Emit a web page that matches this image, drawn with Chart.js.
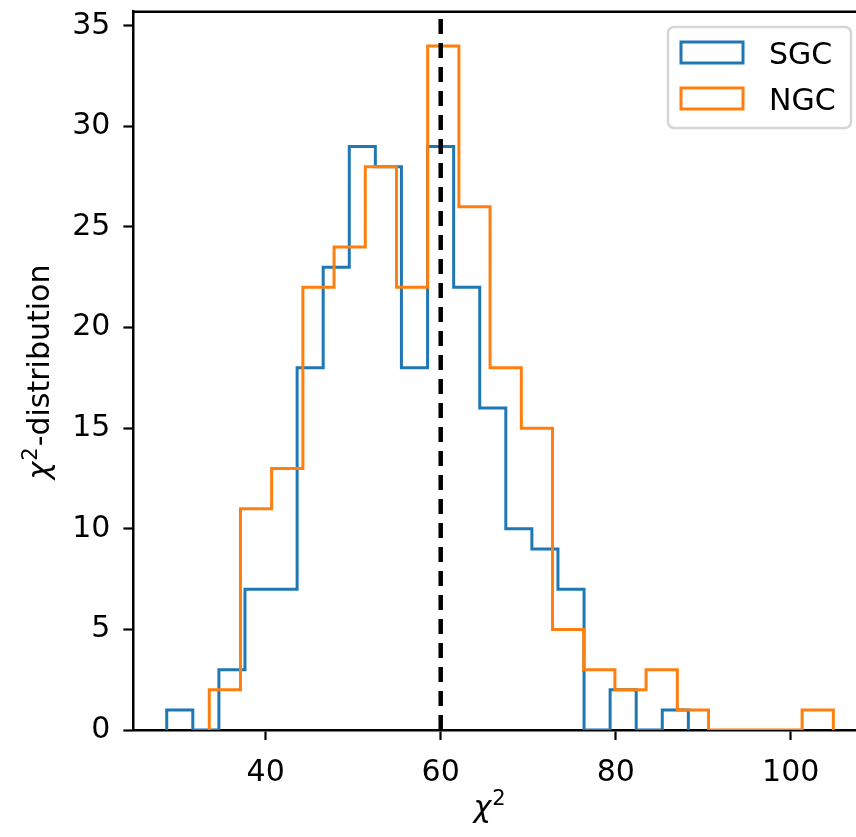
<!DOCTYPE html>
<html>
<head>
<meta charset="utf-8">
<script src="https://cdn.jsdelivr.net/npm/chart.js@4"></script>
<style>
  html, body { margin: 0; padding: 0; background: #ffffff; overflow: hidden; }
  canvas { display: block; }
</style>
</head>
<body>
<canvas id="chi2Hist" width="856" height="837"></canvas>
<script>
// bin edges (20 bins each) and counts per bin
const sgcEdges = [28.69, 31.67, 34.65, 37.63, 40.61, 43.59, 46.57, 49.55, 52.53, 55.51, 58.50,
                  61.48, 64.46, 67.44, 70.42, 73.40, 76.38, 79.36, 82.34, 85.32, 88.30];
const sgcCounts = [1, 0, 3, 7, 7, 18, 23, 29, 28, 18, 29, 22, 16, 10, 9, 7, 0, 2, 0, 1];

const ngcEdges = [33.55, 37.12, 40.68, 44.25, 47.81, 51.38, 54.95, 58.51, 62.08, 65.64, 69.21,
                  72.78, 76.34, 79.91, 83.47, 87.04, 90.61, 94.17, 97.74, 101.30, 104.87];
const ngcCounts = [2, 11, 13, 22, 24, 28, 22, 34, 26, 18, 15, 5, 3, 2, 3, 1, 0, 0, 0, 1];

const refChi2 = 60; // dashed reference line
const xTicks = [40, 60, 80, 100];
const yTicks = [0, 5, 10, 15, 20, 25, 30, 35];
const xMin = 24.88, xMax = 107.46;
const yMin = 0, yMax = 35.7;

// turn edges + counts into an outline like histtype="step"
function stepPoints(edges, counts) {
  const pts = [{ x: edges[0], y: 0 }];
  for (let i = 0; i < counts.length; i++) {
    pts.push({ x: edges[i], y: counts[i] });
  }
  pts.push({ x: edges[edges.length - 1], y: counts[counts.length - 1] });
  pts.push({ x: edges[edges.length - 1], y: 0 });
  return pts;
}

const FONT = "'DejaVu Sans', 'Liberation Sans', sans-serif";

// chi with a superscript 2, then optional plain text; drawn from (x, y) along the baseline
function drawChi2(ctx, x, y, rest) {
  ctx.font = "italic 30px " + FONT;
  ctx.fillText("χ", x, y);
  x += ctx.measureText("χ").width + 1;
  ctx.font = "21px " + FONT;
  ctx.fillText("2", x, y - 12);
  x += ctx.measureText("2").width + 1;
  if (rest) {
    ctx.font = "30px " + FONT;
    ctx.fillText(rest, x, y);
  }
}

function chi2Width(ctx, rest) {
  ctx.font = "italic 30px " + FONT;
  let w = ctx.measureText("χ").width + 1;
  ctx.font = "21px " + FONT;
  w += ctx.measureText("2").width + 1;
  if (rest) {
    ctx.font = "30px " + FONT;
    w += ctx.measureText(rest).width;
  }
  return w;
}

// top spine (right one sits outside the canvas) and axis titles
const frame = {
  id: "frame",
  afterDraw(chart) {
    const { ctx, chartArea } = chart;
    ctx.save();
    ctx.strokeStyle = "#000000";
    ctx.lineWidth = 2.5;
    ctx.beginPath();
    ctx.moveTo(chartArea.left - 1.25, chartArea.top);
    ctx.lineTo(chartArea.right, chartArea.top);
    ctx.stroke();

    ctx.fillStyle = "#000000";
    ctx.textAlign = "left";
    ctx.textBaseline = "alphabetic";
    // x title
    const wx = chi2Width(ctx, "");
    drawChi2(ctx, 490 - wx / 2, 817, "");
    // y title, rotated
    const wy = chi2Width(ctx, "-distribution");
    ctx.translate(49, 372);
    ctx.rotate(-Math.PI / 2);
    drawChi2(ctx, -wy / 2, 0, "-distribution");
    ctx.restore();
  },
};

// matplotlib style legend box in the upper right
const boxLegend = {
  id: "boxLegend",
  afterDraw(chart) {
    const ctx = chart.ctx;
    const items = chart.data.datasets.filter((d) => d.inLegend);
    const bx = 668, by = 27, bw = 183, bh = 101;
    ctx.save();
    ctx.beginPath();
    ctx.roundRect(bx, by, bw, bh, 6);
    ctx.fillStyle = "rgba(255,255,255,0.8)";
    ctx.fill();
    ctx.strokeStyle = "#d6d6d6";
    ctx.lineWidth = 2.5;
    ctx.stroke();
    ctx.font = "30px " + FONT;
    ctx.textBaseline = "alphabetic";
    ctx.textAlign = "left";
    items.forEach((d, i) => {
      const py = 42 + i * 46;
      ctx.strokeStyle = d.borderColor;
      ctx.lineWidth = 3;
      ctx.strokeRect(681, py, 62, 21);
      ctx.fillStyle = "#000000";
      ctx.fillText(d.label, 769, py + 21.5);
    });
    ctx.restore();
  },
};

const ctx = document.getElementById("chi2Hist").getContext("2d");
const config = {
  type: "line",
  data: {
    datasets: [
      {
        label: "SGC",
        data: stepPoints(sgcEdges, sgcCounts),
        borderColor: "#1f77b4",
        borderWidth: 3,
        stepped: "before",
        pointRadius: 0,
        fill: false,
        order: 2,
        inLegend: true,
      },
      {
        label: "NGC",
        data: stepPoints(ngcEdges, ngcCounts),
        borderColor: "#ff7f0e",
        borderWidth: 3,
        stepped: "before",
        pointRadius: 0,
        fill: false,
        order: 1,
        inLegend: true,
      },
      {
        label: "ref",
        data: [{ x: refChi2, y: yMin }, { x: refChi2, y: yMax }],
        borderColor: "#000000",
        borderWidth: 4.5,
        borderDash: [15, 9],
        pointRadius: 0,
        order: 0,
        inLegend: false,
      },
    ],
  },
  options: {
    responsive: false,
    animation: false,
    layout: { padding: { top: 11.7, right: 0, bottom: 0, left: 0 } },
    plugins: {
      legend: { display: false },
      tooltip: { enabled: false },
    },
    scales: {
      x: {
        type: "linear",
        min: xMin,
        max: xMax,
        afterBuildTicks: (scale) => { scale.ticks = xTicks.map((v) => ({ value: v })); },
        afterFit: (scale) => {
          scale.height = 107;
          scale.paddingLeft = 0;
          scale.paddingRight = 0;
        },
        grid: { drawOnChartArea: false, drawTicks: true, tickLength: 10, tickWidth: 2.2, tickColor: "#000000" },
        border: { display: true, color: "#000000", width: 2.5 },
        ticks: { color: "#000000", font: { family: FONT, size: 30 }, padding: 15, maxRotation: 0 },
        title: { display: false },
      },
      y: {
        type: "linear",
        min: yMin,
        max: yMax,
        afterBuildTicks: (scale) => { scale.ticks = yTicks.map((v) => ({ value: v })); },
        afterFit: (scale) => {
          scale.width = 133.4;
          scale.paddingTop = 0;
          scale.paddingBottom = 0;
        },
        grid: { drawOnChartArea: false, drawTicks: true, tickLength: 10, tickWidth: 2.2, tickColor: "#000000" },
        border: { display: true, color: "#000000", width: 2.5 },
        ticks: { color: "#000000", font: { family: FONT, size: 30 }, padding: 13 },
        title: { display: false },
      },
    },
  },
  plugins: [frame, boxLegend],
};

const chi2Chart = new Chart(ctx, config);
</script>
</body>
</html>
